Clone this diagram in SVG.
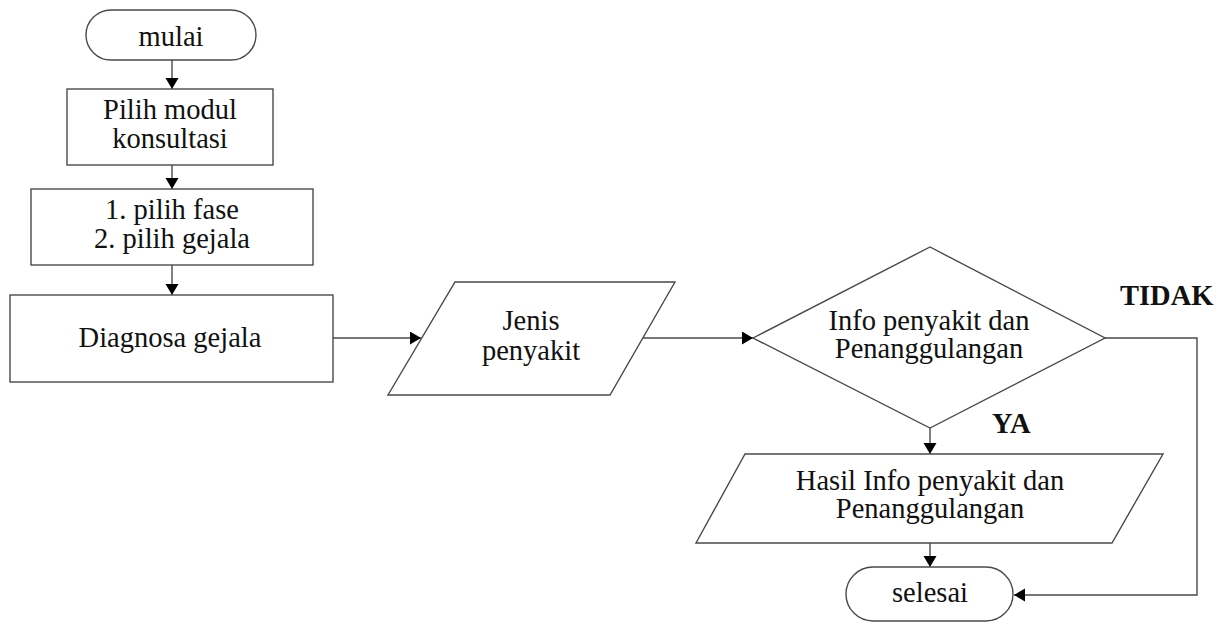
<svg xmlns="http://www.w3.org/2000/svg" width="1218" height="624" viewBox="0 0 1218 624">
<style>
.s{fill:#fff;stroke:#4a4a4a;stroke-width:1.4}
.c{fill:none;stroke:#4a4a4a;stroke-width:1.4}
text{font-family:"Liberation Serif","Times New Roman",serif;font-size:28.5px;fill:#111;text-anchor:middle}
.b{font-weight:bold;text-anchor:start}
</style>
<defs>
<marker id="ah" markerUnits="userSpaceOnUse" markerWidth="12" markerHeight="14" refX="11" refY="6.5" orient="auto">
<path d="M0,0 L11,6.5 L0,13 z" fill="#000"/>
</marker>
</defs>
<rect width="1218" height="624" fill="#fff"/>
<g id="connectors">
<line class="c" x1="172" y1="60" x2="172" y2="89" marker-end="url(#ah)"/>
<line class="c" x1="172" y1="165" x2="172" y2="189" marker-end="url(#ah)"/>
<line class="c" x1="172" y1="265" x2="172" y2="295" marker-end="url(#ah)"/>
<line class="c" x1="333" y1="338" x2="421" y2="338" marker-end="url(#ah)"/>
<line class="c" x1="643" y1="338" x2="753" y2="338" marker-end="url(#ah)"/>
<line class="c" x1="930" y1="428" x2="930" y2="454" marker-end="url(#ah)"/>
<line class="c" x1="930" y1="543" x2="930" y2="567" marker-end="url(#ah)"/>
<polyline class="c" points="1105,338 1197,338 1197,595 1014,595" marker-end="url(#ah)"/>
</g>
<g id="mulai">
<rect class="s" x="86" y="10" width="170" height="50" rx="25"/>
<text x="171" y="46">mulai</text>
</g>
<g id="pilih-modul">
<rect class="s" x="67" y="89" width="206" height="76"/>
<text x="170" y="119">Pilih modul</text>
<text x="170" y="148">konsultasi</text>
</g>
<g id="pilih-fase">
<rect class="s" x="31" y="189" width="282" height="76"/>
<text x="172" y="219">1. pilih fase</text>
<text x="172" y="248">2. pilih gejala</text>
</g>
<g id="diagnosa">
<rect class="s" x="10" y="295" width="323" height="87"/>
<text x="170" y="347">Diagnosa gejala</text>
</g>
<g id="jenis-penyakit">
<polygon class="s" points="455,282 675,282 610,395 388,395"/>
<text x="531" y="330">Jenis</text>
<text x="531" y="360">penyakit</text>
</g>
<g id="info-decision">
<polygon class="s" points="753,338 930,247 1105,338 930,428"/>
<text x="929" y="330">Info penyakit dan</text>
<text x="929" y="358">Penanggulangan</text>
</g>
<g id="labels">
<text class="b" x="1120" y="305">TIDAK</text>
<text class="b" x="992" y="433">YA</text>
</g>
<g id="hasil-info">
<polygon class="s" points="745,454 1163,454 1112,543 696,543"/>
<text x="930" y="490">Hasil Info penyakit dan</text>
<text x="930" y="518">Penanggulangan</text>
</g>
<g id="selesai">
<rect class="s" x="846" y="567" width="167" height="54" rx="27"/>
<text x="930" y="602">selesai</text>
</g>
</svg>
